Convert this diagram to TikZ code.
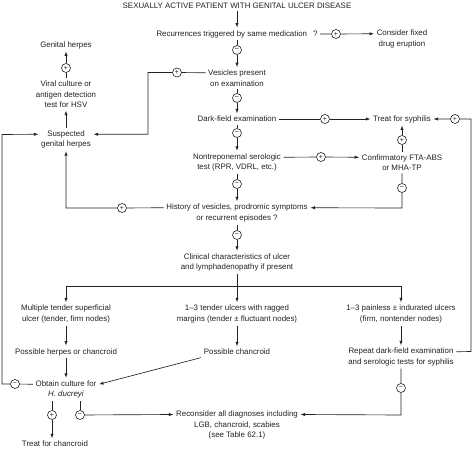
\documentclass[tikz,border=0pt]{standalone}
\usepackage{fontspec}
\setmainfont{Liberation Sans}
\usetikzlibrary{arrows.meta}
\definecolor{ink}{HTML}{222222}
\begin{document}
\begin{tikzpicture}[x=1pt,y=-1pt,
  txt/.style={align=center,font=\fontsize{7.9}{10.5}\selectfont,inner sep=2.5pt,text=ink},
  sgn/.style={circle,draw=ink,fill=white,minimum size=9pt,inner sep=0pt,line width=0.6pt,font=\fontsize{7}{7}\selectfont,text=ink},
  conn/.style={draw=ink,line width=0.65pt},
  arr/.style={conn,-{Latex[length=4.5pt,width=3.2pt]}}]
\useasboundingbox (0,0) rectangle (474,449);

% ---- text nodes ----
\node[txt] (title) at (237,6) {SEXUALLY ACTIVE PATIENT WITH GENITAL ULCER DISEASE};
\node[txt] (rec) at (237,34) {Recurrences triggered by same medication\hspace{6pt}?};
\node[txt] (fixed) at (402,39) {Consider fixed\\drug eruption};
\node[txt] (ves) at (237,78) {Vesicles present\\on examination};
\node[txt] (dark) at (237,119) {Dark-field examination};
\node[txt] (syph) at (402,119) {Treat for syphilis};
\node[txt] (nontrep) at (237,162.5) {Nontreponemal serologic\\test (RPR, VDRL, etc.)};
\node[txt] (conf) at (402,162.5) {Confirmatory FTA-ABS\\or MHA-TP};
\node[txt] (hist) at (237,213) {History of vesicles, prodromic symptoms\\or recurrent episodes ?};
\node[txt] (clin) at (237,262.5) {Clinical characteristics of ulcer\\and lymphadenopathy if present};
\node[txt] (gh) at (66,45) {Genital herpes};
\node[txt] (viral) at (66,94.5) {Viral culture or\\antigen detection\\test for HSV};
\node[txt] (sh) at (66,139.5) {Suspected\\genital herpes};
\node[txt] (m1) at (66,314) {Multiple tender superficial\\ulcer (tender, firm nodes)};
\node[txt] (m2) at (237,314) {1–3 tender ulcers with ragged\\margins (tender ± fluctuant nodes)};
\node[txt] (m3) at (401,314) {1–3 painless ± indurated ulcers\\(firm, nontender nodes)};
\node[txt] (p1) at (66,352) {Possible herpes or chancroid};
\node[txt] (p2) at (237,352) {Possible chancroid};
\node[txt] (rep) at (401,357) {Repeat dark-field examination\\and serologic tests for syphilis};
\node[txt] (obt) at (66,389.5) {Obtain culture for\\\textit{H. ducreyi}};
\node[txt] (recon) at (237,425) {Reconsider all diagnoses including\\LGB, chancroid, scabies\\(see Table 62.1)};
\node[txt] (tc) at (55,444) {Treat for chancroid};

% ---- sign nodes ----
\node[sgn] (s1) at (237,50) {−};
\node[sgn] (s2) at (237,98) {−};
\node[sgn] (s3) at (237,133) {−};
\node[sgn] (s4) at (237,184) {−};
\node[sgn] (s5) at (237,235) {−};
\node[sgn] (sH) at (336,34) {+};
\node[sgn] (sA) at (177,72.5) {+};
\node[sgn] (sGH) at (66,68) {+};
\node[sgn] (sC) at (325,119) {+};
\node[sgn] (sD) at (321,157) {+};
\node[sgn] (sE) at (402,140) {+};
\node[sgn] (sF) at (402,188) {−};
\node[sgn] (sG) at (455,119) {+};
\node[sgn] (sB) at (122,208) {+};
\node[sgn] (sI) at (15,384) {−};
\node[sgn] (sJ) at (52,415) {+};
\node[sgn] (sK) at (80,415) {−};
\node[sgn] (sL) at (401,388) {−};

% ---- corner coordinates ----
\coordinate (cA) at (148,72.5);
\coordinate (cB) at (66,208);
\coordinate (cF) at (402,208);
\coordinate (cG1) at (471,351.5);
\coordinate (cG2) at (471,119);
\coordinate (cI1) at (2,384);
\coordinate (cI2) at (2,134.5);
\coordinate (cL) at (401,415);
\coordinate (split) at (237,286);

% ---- spine ----
\draw[arr] (title) -- (rec);
\draw[arr] (rec) -- (s1) -- (ves);
\draw[arr] (ves) -- (s2) -- (dark);
\draw[arr] (dark) -- (s3) -- (nontrep);
\draw[arr] (nontrep) -- (s4) -- (hist);
\draw[arr] (hist) -- (s5) -- (clin);
\draw[conn] (clin) -- (split);
\draw[arr] (split) -| (m1);
\draw[arr] (split) -- (m2);
\draw[arr] (split) -| (m3);

% ---- branches ----
\draw[arr] (rec) -- (sH) -- ([yshift=5.25pt]fixed.west);
\draw[arr] ([yshift=5.25pt]ves.west) -- (sA) -- (cA) |- ([yshift=5.25pt]sh.east);
\draw[arr] (sh) -- (viral);
\draw[arr] (viral) -- (sGH) -- (gh);
\draw[arr] (dark) -- (sC) -- (syph);
\draw[arr] ([yshift=5.25pt]nontrep.east) -- (sD) -- ([yshift=5.25pt]conf.west);
\draw[arr] (conf) -- (sE) -- (syph);
\draw[arr] (conf) -- (sF) -- (cF) -- ([yshift=5.25pt]hist.east);
\draw[arr] ([yshift=5.25pt]hist.west) -- (sB) -- (cB) -- (sh);
\draw[arr] ([yshift=5.25pt]rep.east) -- (cG1) -- (cG2) -- (sG) -- (syph);

% ---- lower part ----
\draw[arr] (m1) -- (p1);
\draw[arr] (m2) -- (p2);
\draw[arr] (m3) -- (rep);
\draw[arr] (p1) -- (obt);
\draw[arr] (p2.south west) -- ([yshift=5.25pt]obt.east);
\draw[arr] ([yshift=5.25pt]obt.west) -- (sI) -- (cI1) -- (cI2) -- ([yshift=5.25pt]sh.west);
\draw[arr] (sJ |- obt.south) -- (sJ) -- (sJ |- tc.north);
\draw[conn] (sK |- obt.south) -- (sK);
\draw[arr] (sK) -- ([yshift=10.5pt]recon.west);
\draw[arr] (rep) -- (sL) -- (cL) -- ([yshift=10.5pt]recon.east);
\end{tikzpicture}
\end{document}
